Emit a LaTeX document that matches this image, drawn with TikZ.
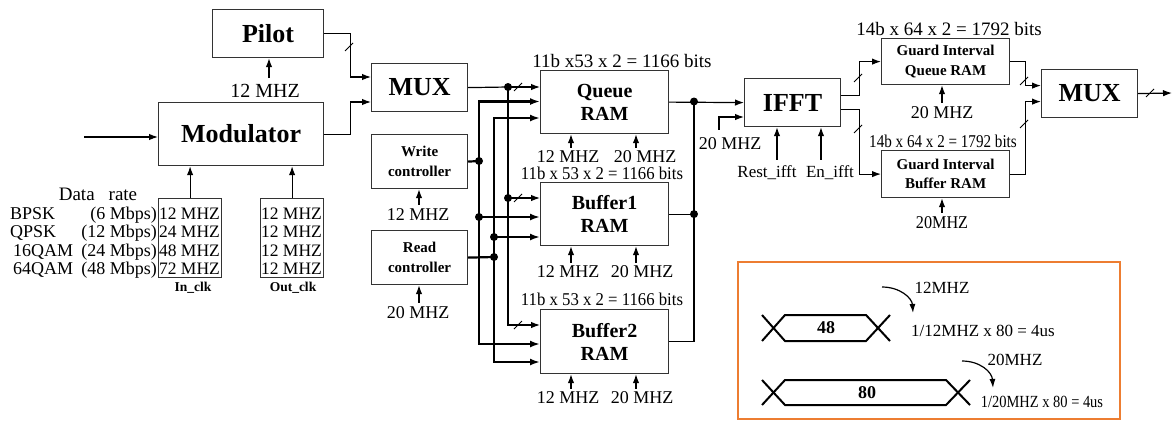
\documentclass[tikz,border=0pt]{standalone}
\usepackage{fontspec}
\setmainfont{Liberation Serif}
\usetikzlibrary{arrows.meta,calc}
\definecolor{boxorange}{HTML}{ED7D31}
\definecolor{edgegray}{HTML}{333333}
\newcommand{\busmark}[2]{\draw[line width=1pt] (#1-4,#2+4) -- (#1+4,#2-4);}
\newcommand{\clkarrow}[4]{\draw[arr] ([xshift=#2,yshift=#4]#1.north) -- ([xshift=#2]#1.north |- #3.south);}
\begin{document}
\begin{tikzpicture}[x=1pt,y=-1pt,
  box/.style={draw=edgegray,line width=1.2pt,inner sep=0pt,align=center,anchor=north west},
  bigb/.style={font=\fontsize{26}{26}\selectfont\bfseries},
  ramb/.style={font=\fontsize{20}{23}\selectfont\bfseries},
  ctlb/.style={font=\fontsize{15}{19.5}\selectfont\bfseries},
  lbl/.style={inner sep=0pt,font=\fontsize{18}{18}\selectfont},
  arr/.style={line width=1.2pt,-{Latex[length=9pt,width=6.5pt]}},
  wire/.style={line width=1.2pt},
  bus/.style={line width=2.2pt},
  busarr/.style={line width=2.2pt,-{Latex[length=10pt,width=7pt]}},
  busarrtwo/.style={line width=2.2pt,{Latex[length=10pt,width=7pt]}-{Latex[length=10pt,width=7pt]}},
  wirearrtwo/.style={line width=1.2pt,{Latex[length=9pt,width=6.5pt]}-{Latex[length=9pt,width=6.5pt]}},
  jdot/.style={circle,fill,inner sep=0pt,minimum size=8pt}
]
\fill[white] (0,0) rectangle (1172,421);
\useasboundingbox (0,0) rectangle (1172,421);

% ---------- blocks ----------
\node[box,bigb,minimum width=111pt,minimum height=48pt] (pilot) at (212,9) {Pilot};
\node[box,bigb,minimum width=165pt,minimum height=63pt] (mod) at (158,102) {Modulator};
\node[box,bigb,minimum width=96pt,minimum height=48pt] (mux1) at (371,63) {MUX};
\node[box,ctlb,minimum width=96pt,minimum height=54pt] (wctrl) at (371,134) {Write\\controller};
\node[box,ctlb,minimum width=96pt,minimum height=54pt] (rctrl) at (371,230) {Read\\controller};
\node[box,ramb,minimum width=128pt,minimum height=63pt] (queue) at (540,70) {Queue\\RAM};
\node[box,ramb,minimum width=128pt,minimum height=63pt] (buf1) at (540,182) {Buffer1\\RAM};
\node[box,ramb,minimum width=128pt,minimum height=64pt] (buf2) at (540,309) {Buffer2\\RAM};
\node[box,bigb,minimum width=96pt,minimum height=48pt] (ifft) at (744,78) {IFFT};
\node[box,ctlb,minimum width=128pt,minimum height=46pt] (giq) at (881,38) {Guard Interval\\Queue RAM};
\node[box,ctlb,minimum width=128pt,minimum height=47pt] (gib) at (881,150) {Guard Interval\\Buffer RAM};
\node[box,bigb,minimum width=96pt,minimum height=48pt] (mux2) at (1041,69) {MUX};
\node[box,minimum width=63pt,minimum height=79pt] (inclk) at (158,198) {};
\node[box,minimum width=63pt,minimum height=79pt] (outclk) at (260,198) {};

% ---------- data rate table ----------
\node[lbl,font=\fontsize{19}{19}\selectfont] (drate) at (98,194) {Data\hspace{14pt}rate};
\node[lbl,anchor=base west] (m1) at (10,219) {BPSK};
\node[lbl,anchor=base west] (m2) at (10,237.5) {QPSK};
\node[lbl,anchor=base west] (m3) at (13,256) {16QAM};
\node[lbl,anchor=base west] (m4) at (13,274.5) {64QAM};
\node[lbl,anchor=base east] (r1) at (157,219) {(6 Mbps)};
\node[lbl,anchor=base east] (r2) at (157,237.5) {(12 Mbps)};
\node[lbl,anchor=base east] (r3) at (157,256) {(24 Mbps)};
\node[lbl,anchor=base east] (r4) at (157,274.5) {(48 Mbps)};
\node[lbl,anchor=base,font=\fontsize{17.5}{17.5}\selectfont] (i1) at (189.5,219) {12 MHZ};
\node[lbl,anchor=base,font=\fontsize{17.5}{17.5}\selectfont] (i2) at (189.5,237.5) {24 MHZ};
\node[lbl,anchor=base,font=\fontsize{17.5}{17.5}\selectfont] (i3) at (189.5,256) {48 MHZ};
\node[lbl,anchor=base,font=\fontsize{17.5}{17.5}\selectfont] (i4) at (189.5,274.5) {72 MHZ};
\node[lbl,anchor=base,font=\fontsize{17.5}{17.5}\selectfont] (o1) at (291.5,219) {12 MHZ};
\node[lbl,anchor=base,font=\fontsize{17.5}{17.5}\selectfont] (o2) at (291.5,237.5) {12 MHZ};
\node[lbl,anchor=base,font=\fontsize{17.5}{17.5}\selectfont] (o3) at (291.5,256) {12 MHZ};
\node[lbl,anchor=base,font=\fontsize{17.5}{17.5}\selectfont] (o4) at (291.5,274.5) {12 MHZ};
\node[inner sep=0pt,font=\fontsize{13.5}{13.5}\selectfont\bfseries] (inlbl) at (193,288) {In\_clk};
\node[inner sep=0pt,font=\fontsize{13.5}{13.5}\selectfont\bfseries] (outlbl) at (293,288) {Out\_clk};

% ---------- labels ----------
\node[lbl,font=\fontsize{20}{20}\selectfont] (pil12) at (265,91) {12 MHZ};
\node[lbl] (wc12) at (418,215) {12 MHZ};
\node[lbl] (rc20) at (418,313) {20 MHZ};
\node[lbl] (q12) at (568,157) {12 MHZ};
\node[lbl] (q20) at (645,157) {20 MHZ};
\node[lbl] (ba12) at (568,272) {12 MHZ};
\node[lbl] (ba20) at (642,272) {20 MHZ};
\node[lbl] (bb12) at (568,398) {12 MHZ};
\node[lbl] (bb20) at (642,398) {20 MHZ};
\node[lbl,font=\fontsize{19}{19}\selectfont] (qbits) at (622,61) {11b x53 x 2 = 1166 bits};
\node[lbl] (babits) at (602,173) {\scalebox{0.93}[1]{11b x 53 x 2 = 1166 bits}};
\node[lbl] (bbbits) at (602,299) {\scalebox{0.93}[1]{11b x 53 x 2 = 1166 bits}};
\node[lbl] (ifft20) at (730,144) {20 MHZ};
\node[lbl,font=\fontsize{17}{17}\selectfont] (rest) at (767,173) {Rest\_ifft};
\node[lbl,font=\fontsize{17}{17}\selectfont] (en) at (830,173) {En\_ifft};
\node[lbl,font=\fontsize{19}{19}\selectfont] (giqbits) at (949,29) {14b x 64 x 2 = 1792 bits};
\node[lbl] (gibbits) at (943,141) {\scalebox{0.84}[1]{14b x 64 x 2 = 1792 bits}};
\node[lbl] (giq20) at (942,113) {20 MHZ};
\node[lbl] (gib20) at (942,223) {\scalebox{0.9}[1]{20MHZ}};

% ---------- clock arrows ----------
\clkarrow{pil12}{4pt}{pilot}{6pt}
\clkarrow{wc12}{1pt}{wctrl}{4pt}
\clkarrow{rc20}{1pt}{rctrl}{4pt}
\clkarrow{q12}{3pt}{queue}{3pt}
\clkarrow{q20}{-9pt}{queue}{3pt}
\clkarrow{ba12}{3pt}{buf1}{3pt}
\clkarrow{ba20}{-6pt}{buf1}{3pt}
\clkarrow{bb12}{3pt}{buf2}{3pt}
\clkarrow{bb20}{-6pt}{buf2}{3pt}
\clkarrow{giq20}{0pt}{giq}{4pt}
\clkarrow{gib20}{0pt}{gib}{4pt}
\clkarrow{rest}{10pt}{ifft}{6pt}
\clkarrow{en}{-9pt}{ifft}{6pt}
\draw[arr] ([xshift=-11pt,yshift=8pt]ifft20.north) |- ([yshift=-39pt]ifft.north west);
\draw[arr] (inclk.north) -- (inclk.north |- mod.south);
\draw[arr] (outclk.north) -- (outclk.north |- mod.south);

% ---------- left part ----------
\coordinate (modin) at (84,137);
\draw[arr] (modin) -- (modin -| mod.west);
\draw[arr] (pilot.east) -- ++(26,0) |- ([yshift=-14pt]mux1.north west);
\draw[arr] (mod.east) -- ++(26,0) |- ([yshift=-39pt]mux1.north west);
\busmark{349}{47}

% ---------- RAM wiring ----------
\coordinate (mj1) at (508,87);
\coordinate (mj2) at (508,198);
\coordinate (mj3) at (508,325);
\coordinate (wq) at (479,101.5);
\coordinate (wj) at (479,161);
\coordinate (wb1) at (479,217);
\coordinate (wb2) at (479,344);
\coordinate (rq) at (494,118);
\coordinate (rb1) at (494,237);
\coordinate (rj) at (494,257);
\coordinate (rb2) at (494,362);

\draw[bus] (wctrl.east) -- (wj);
\draw[bus] (rctrl.east) -- (rj);
\draw[busarrtwo] (wq -| queue.west) -- (wq) -- (wb2) -- (wb2 -| buf2.west);
\draw[busarr] (wb1) -- (wb1 -| buf1.west);
\draw[busarrtwo] (rq -| queue.west) -- (rq) -- (rb2) -- (rb2 -| buf2.west);
\draw[busarr] (rb1) -- (rb1 -| buf1.west);
\draw[wire] (mux1.east) -- (mj1);
\draw[wirearrtwo] (mj1 -| queue.west) -- (mj1) -- (mj3) -- (mj3 -| buf2.west);
\draw[arr] (mj2) -- (mj2 -| buf1.west);
\busmark{518}{87}
\busmark{518}{198}
\busmark{518}{325}
\foreach \p in {mj1,mj2,wj,wb1,rb1,rj} {\node[jdot] at (\p) {};}

% ---------- output side ----------
\coordinate (oj1) at (694,101.5);
\draw[arr] (queue.east) -- (ifft.west);
\draw[wire] (buf2.east) -| (oj1);
\draw[wire] (buf1.east) -- (buf1.east -| oj1) coordinate (oj2);
\node[jdot] at (oj1) {};
\node[jdot] at (oj2) {};

\draw[arr] ([yshift=7pt]ifft.east) -- ++(18,0) |- (giq.west);
\draw[arr] ([yshift=-7pt]ifft.east) -- ++(18,0) |- (gib.west);
\busmark{858}{78}
\busmark{858}{129}
\draw[arr] (giq.east) -- ++(15,0) |- ([yshift=8pt]mux2.west);
\draw[arr] (gib.east) -- ++(15,0) |- ([yshift=-8pt]mux2.west);
\busmark{1024}{81}
\busmark{1024}{124}
\coordinate (out) at (1172,93);
\draw[arr] (mux2.east) -- (out);
\busmark{1150}{93}

% ---------- timing inset ----------
\draw[boxorange,line width=2.5pt] (738,262) rectangle (1120,419);
\draw[line width=2pt] (762,315) -- (785,341) -- (866,341) -- (890,315);
\draw[line width=2pt] (762,341) -- (785,315) -- (866,315) -- (890,341);
\node[inner sep=0pt,font=\fontsize{18}{18}\selectfont\bfseries] (b48) at (826,328) {48};
\draw[line width=2pt] (762,380) -- (785,405) -- (946,405) -- (970,380);
\draw[line width=2pt] (762,405) -- (785,380) -- (946,380) -- (970,405);
\node[inner sep=0pt,font=\fontsize{18}{18}\selectfont\bfseries] (b80) at (867,393) {80};
\node[lbl,font=\fontsize{17}{17}\selectfont] (t12) at (942,288) {12MHZ};
\draw[line width=1.2pt,-{Latex[length=9pt,width=6pt]}] (882,287) .. controls (900,287) and (912,298) .. (913,313);
\node[lbl,font=\fontsize{17}{17}\selectfont] (f12) at (983,331) {1/12MHZ x 80 = 4us};
\node[lbl,font=\fontsize{17}{17}\selectfont] (t20) at (1015,360) {20MHZ};
\draw[line width=1.2pt,-{Latex[length=9pt,width=6pt]}] (962,361) .. controls (980,361) and (992,372) .. (993,388);
\node[lbl,font=\fontsize{17}{17}\selectfont] (f20) at (1042,402) {\scalebox{0.85}[1]{1/20MHZ x 80 = 4us}};
\end{tikzpicture}
\end{document}
